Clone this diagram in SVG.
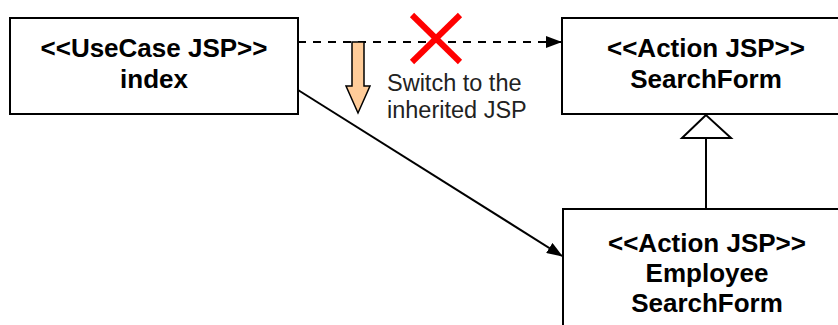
<svg xmlns="http://www.w3.org/2000/svg" width="838" height="325" viewBox="0 0 838 325">
<style>
.box{fill:#fff;stroke:#000;stroke-width:2}
.t{font-family:"Liberation Sans",Arial,sans-serif;font-weight:bold;font-size:26px;text-anchor:middle;fill:#000}
.n{font-family:"Liberation Sans",Arial,sans-serif;font-size:23.5px;fill:#222}
.c{stroke:#000;stroke-width:2;fill:none}
</style>
<defs>
<marker id="ah" markerWidth="16" markerHeight="12" refX="15" refY="6" orient="auto" markerUnits="userSpaceOnUse">
<path d="M0,0 L16,6 L0,12 Z" fill="#000"/>
</marker>
</defs>
<g id="index">
<rect class="box" x="10" y="18" width="288" height="96"/>
<text class="t" x="154" y="57">&lt;&lt;UseCase JSP&gt;&gt;</text>
<text class="t" x="154" y="88">index</text>
</g>
<g id="searchform">
<rect class="box" x="562" y="18" width="290" height="96"/>
<text class="t" x="706" y="57">&lt;&lt;Action JSP&gt;&gt;</text>
<text class="t" x="706" y="88">SearchForm</text>
</g>
<g id="employeesearchform">
<rect class="box" x="563" y="209" width="290" height="130"/>
<text class="t" x="707" y="252">&lt;&lt;Action JSP&gt;&gt;</text>
<text class="t" x="707" y="282">Employee</text>
<text class="t" x="707" y="312">SearchForm</text>
</g>
<g id="connectors">
<line class="c" x1="298" y1="42" x2="561" y2="42" stroke-dasharray="8,7" marker-end="url(#ah)"/>
<line class="c" x1="298" y1="90" x2="562" y2="256" marker-end="url(#ah)"/>
<line class="c" x1="706" y1="138" x2="706" y2="209"/>
<polygon points="706,115 682,138 731,138" fill="#fff" stroke="#000" stroke-width="2"/>
</g>
<g id="note">
<line x1="412" y1="15" x2="460" y2="62" stroke="#f00" stroke-width="6"/>
<line x1="460" y1="15" x2="412" y2="62" stroke="#f00" stroke-width="6"/>
<polygon points="352,42 364,42 364,86 370,86 358,113 346,86 352,86" fill="#FFCC99" stroke="#000" stroke-width="1.5"/>
<text class="n" x="387" y="91">Switch to the</text>
<text class="n" x="387" y="118">inherited JSP</text>
</g>
</svg>
